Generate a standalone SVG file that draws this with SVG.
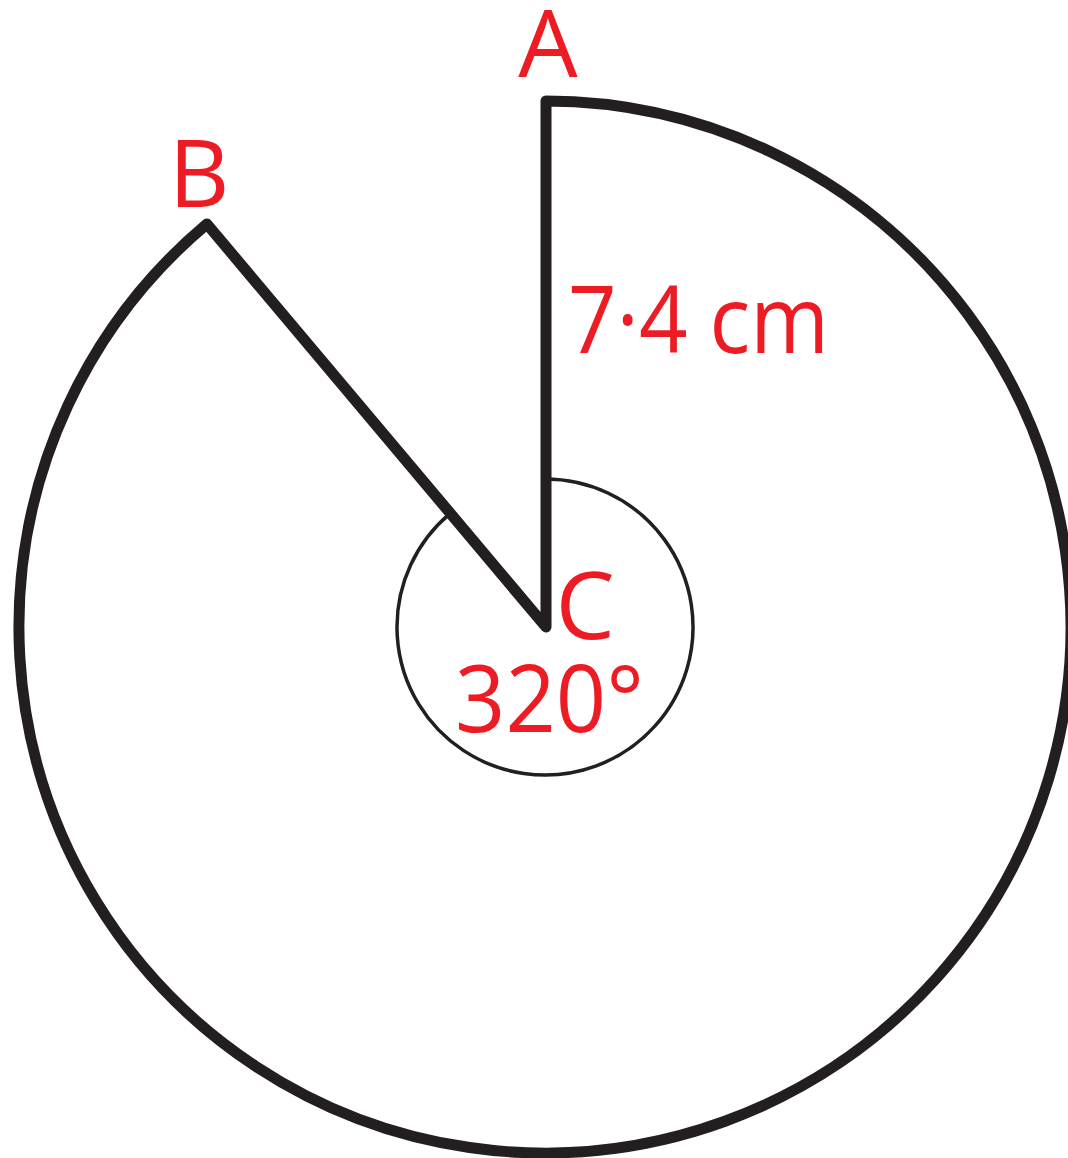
<svg xmlns="http://www.w3.org/2000/svg" width="1068" height="1158" viewBox="0 0 1068 1158">
<style>
.lbl{font-family:"Open Sans","Noto Sans","Liberation Sans",sans-serif;fill:#ed1c24;font-size:94px}
.thick{fill:none;stroke:#231f20;stroke-width:11;stroke-linejoin:round;stroke-linecap:round}
.thin{fill:none;stroke:#231f20;stroke-width:3.5}
</style>
<rect width="1068" height="1158" fill="#ffffff"/>
<g id="connectors">
<path id="angle-arc" class="thin" d="M 545 479 A 148 148 0 1 1 449.9 513.6"/>
<path id="sector" class="thick" d="M 546 101 A 526 526 0 1 1 206.9 224 L 546 627 Z"/>
</g>
<g id="node-A"><text class="lbl" x="548" y="77" text-anchor="middle">A</text></g>
<g id="node-B"><text class="lbl" x="199" y="207" text-anchor="middle">B</text></g>
<g id="node-C"><text class="lbl" x="585" y="639" text-anchor="middle">C</text></g>
<g id="angle-label"><text class="lbl" x="455" y="732" textLength="189" lengthAdjust="spacingAndGlyphs">320°</text></g>
<g id="radius-label"><text class="lbl" x="568" y="353" textLength="261" lengthAdjust="spacingAndGlyphs">7·4 cm</text></g>
</svg>
